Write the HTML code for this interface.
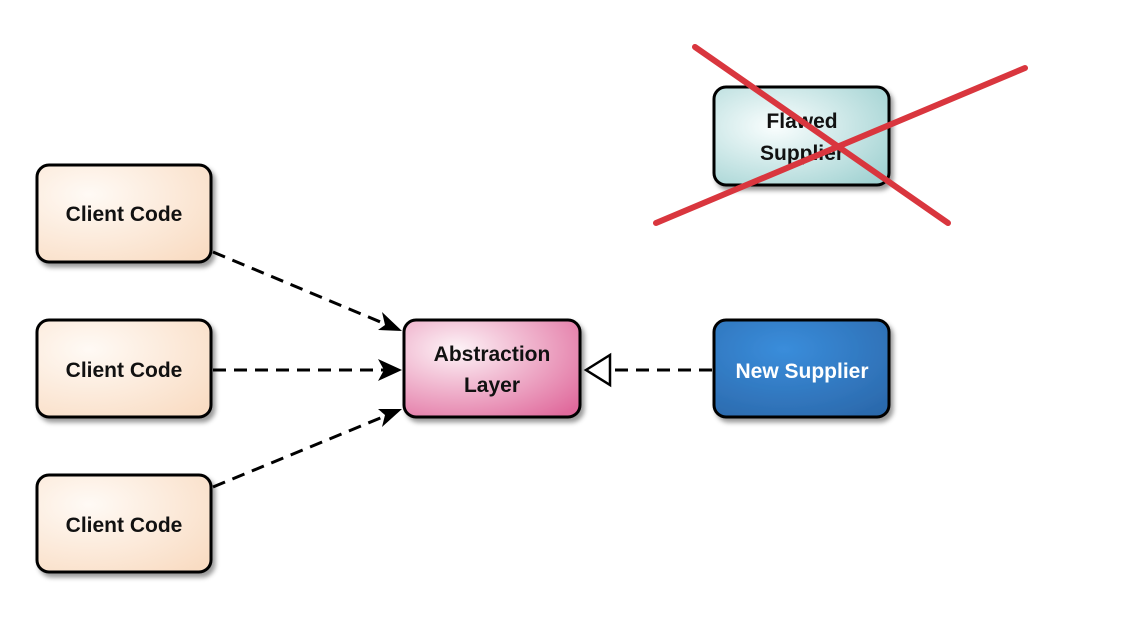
<!DOCTYPE html>
<html><head><meta charset="utf-8"><style>html,body{margin:0;padding:0;background:#fff}svg{display:block}</style></head><body>
<svg width="1130" height="622" viewBox="0 0 1130 622" xmlns="http://www.w3.org/2000/svg" font-family="Liberation Sans, sans-serif">
<defs>
<radialGradient id="peach" cx="0.3" cy="0.3" r="0.9"><stop offset="0" stop-color="#fffaf5"/><stop offset="1" stop-color="#f9dcc3"/></radialGradient>
<radialGradient id="pink" cx="0.3" cy="0.3" r="0.9"><stop offset="0" stop-color="#fdf3f7"/><stop offset="1" stop-color="#e06a9c"/></radialGradient>
<radialGradient id="blue" cx="0.4" cy="0.3" r="0.9"><stop offset="0" stop-color="#3a8ddb"/><stop offset="1" stop-color="#2a66a8"/></radialGradient>
<radialGradient id="teal" cx="0.35" cy="0.4" r="0.9"><stop offset="0" stop-color="#fafefe"/><stop offset="1" stop-color="#95cccc"/></radialGradient>
<filter id="sh" x="-20%" y="-20%" width="150%" height="150%"><feDropShadow dx="3" dy="4" stdDeviation="2.5" flood-color="#000" flood-opacity="0.4"/></filter>
</defs>
<g stroke="#000" stroke-width="3" filter="url(#sh)">
<rect x="37" y="165" width="174" height="97" rx="12" fill="url(#peach)"/>
<rect x="37" y="320" width="174" height="97" rx="12" fill="url(#peach)"/>
<rect x="37" y="475" width="174" height="97" rx="12" fill="url(#peach)"/>
<rect x="404" y="320" width="176" height="97" rx="12" fill="url(#pink)"/>
<rect x="714" y="320" width="175" height="97" rx="12" fill="url(#blue)"/>
<rect x="714" y="87" width="175" height="98" rx="12" fill="url(#teal)"/>
</g>
<g font-weight="bold" font-size="21" text-anchor="middle" fill="#111">
<text x="124" y="221">Client Code</text>
<text x="124" y="377">Client Code</text>
<text x="124" y="532">Client Code</text>
<text x="492" y="361">Abstraction</text>
<text x="492" y="392">Layer</text>
<text x="802" y="378" fill="#fff">New Supplier</text>
<text x="802" y="128">Flawed</text>
<text x="802" y="160">Supplier</text>
</g>
<g stroke="#000" stroke-width="3" stroke-dasharray="13,8" fill="none">
<line x1="213" y1="252" x2="390" y2="326"/>
<line x1="213" y1="370" x2="390" y2="370"/>
<line x1="213" y1="487" x2="390" y2="414"/>
<line x1="712" y1="370" x2="612" y2="370"/>
</g>
<g fill="#000">
<polygon points="402,331 378,330 385,325 382,312"/>
<polygon points="402,370 378,359 384,370 378,381"/>
<polygon points="402,409 382,427 385,415 378,409"/>
</g>
<polygon points="586,370 610,355 610,385" fill="#fff" stroke="#000" stroke-width="2.5"/>
<g stroke="#d9363e" stroke-width="6" stroke-linecap="round">
<line x1="695" y1="47" x2="948" y2="223"/>
<line x1="1025" y1="68" x2="656" y2="223"/>
</g>
</svg>
</body></html>
